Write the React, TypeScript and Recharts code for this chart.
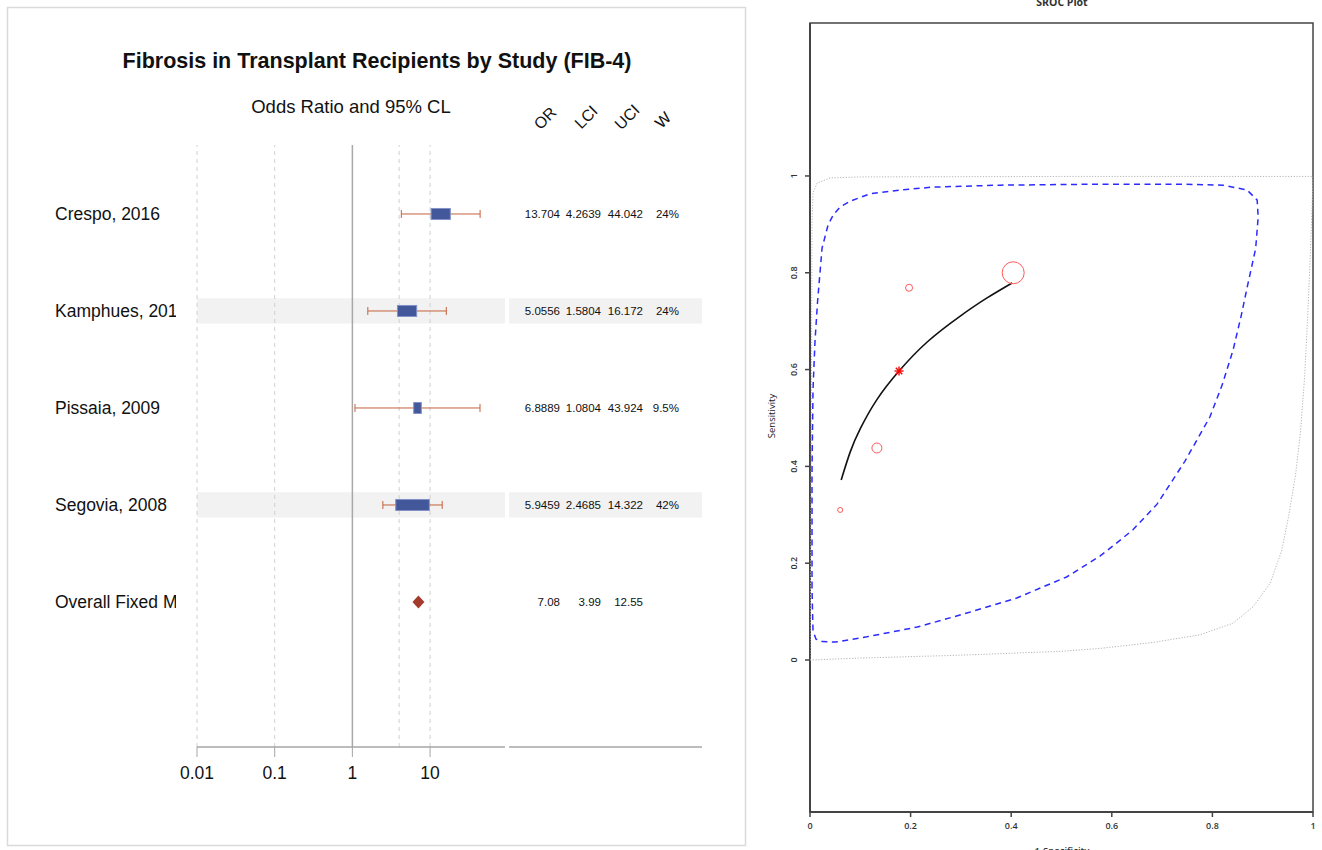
import React from "react";
import {
  ComposedChart,
  ErrorBar,
  ReferenceArea,
  ReferenceLine,
  Scatter,
  XAxis,
  YAxis,
} from "recharts";

// forest plot
const studyNames = ["Crespo, 2016", "Kamphues, 201", "Pissaia, 2009", "Segovia, 2008"];
const orValues = [13.704, 5.0556, 6.8889, 5.9459];
const lciValues = [4.2639, 1.5804, 1.0804, 2.4685];
const uciValues = [44.042, 16.172, 43.924, 14.322];
const weights = [24, 24, 9.5, 42];
const overallLabel = "Overall Fixed Model";
const overallOr = 7.08;
const overallLci = 3.99;
const overallUci = 12.55;
const orTicks = [0.01, 0.1, 1, 10];
const dashedRefs = [0.01, 0.1, 4, 10];
const shadedRows = [1, 3];
const tableHeaders = ["OR", "LCI", "UCI", "W"];

// SROC plot
const srocTicks = [0, 0.2, 0.4, 0.6, 0.8, 1];
const studyFpr = [0.404, 0.197, 0.133, 0.06];
const studySens = [0.8, 0.769, 0.438, 0.31];
const studyWeight = [11, 3.5, 5, 2.5];
const summaryFpr = 0.177;
const summarySens = 0.597;
const curveFpr = [0.062, 0.08, 0.1, 0.133, 0.177, 0.233, 0.298, 0.352, 0.402];
const curveSens = [0.372, 0.43, 0.478, 0.538, 0.597, 0.657, 0.71, 0.748, 0.779];
const confFpr = [
  0.004, 0.004, 0.004, 0.006, 0.01, 0.015, 0.024, 0.036, 0.046, 0.06, 0.08, 0.119, 0.179,
  0.245, 0.378, 0.577, 0.736, 0.821, 0.869, 0.889, 0.891, 0.886, 0.871, 0.857, 0.841, 0.82,
  0.795, 0.745, 0.69, 0.642, 0.61, 0.577, 0.511, 0.411, 0.312, 0.213, 0.113, 0.05, 0.025,
  0.012, 0.006, 0.005, 0.004,
];
const confSens = [
  0.15, 0.25, 0.39, 0.56, 0.66, 0.74, 0.851, 0.899, 0.919, 0.936, 0.948, 0.963, 0.971,
  0.977, 0.981, 0.983, 0.983, 0.981, 0.971, 0.95, 0.915, 0.85, 0.779, 0.71, 0.64, 0.57,
  0.502, 0.41, 0.322, 0.269, 0.242, 0.215, 0.172, 0.128, 0.097, 0.068, 0.048, 0.037, 0.038,
  0.043, 0.06, 0.1, 0.15,
];
const predFpr = [
  0, 0.1, 0.2, 0.3, 0.4, 0.5, 0.577, 0.68, 0.775, 0.841, 0.881, 0.915, 0.938, 0.952, 0.965,
  0.975, 0.983, 0.989, 0.994, 0.998, 1, 0.5, 0.1, 0.04, 0.014, 0.006, 0.004, 0.003, 0.002, 0,
];
const predSens = [
  0, 0.004, 0.007, 0.01, 0.014, 0.018, 0.024, 0.036, 0.052, 0.076, 0.11, 0.159, 0.227, 0.3,
  0.38, 0.47, 0.58, 0.7, 0.82, 0.93, 0.999, 0.999, 0.998, 0.996, 0.985, 0.965, 0.9, 0.6, 0.3, 0,
];

const FONT = "'Liberation Sans', Arial, sans-serif";
const SROC_FONT = "'Open Sans', 'DejaVu Sans', sans-serif";
const COL_RIGHT = [560, 601, 643, 679];
const ROW_BOTTOM = 5.495;

const studyRows = studyNames.map((name, i) => ({
  row: i,
  or: orValues[i],
  err: [orValues[i] - lciValues[i], uciValues[i] - orValues[i]],
  cells: [String(orValues[i]), String(lciValues[i]), String(uciValues[i]), weights[i] + "%"],
  w: weights[i],
}));
const overallRow = [
  {
    row: 4,
    or: overallOr,
    cells: [String(overallOr), String(overallLci), String(overallUci)],
  },
];
const rowLabels = [...studyNames, overallLabel];

const zip = (xs: number[], ys: number[]) => xs.map((x, i) => ({ x, y: ys[i] }));
const studyPoints = studyFpr.map((x, i) => ({ x, y: studySens[i], w: studyWeight[i] }));

function TableCells({ cy, cells }: { cy: number; cells: string[] }) {
  return (
    <>
      {cells.map((c, i) => (
        <text
          key={i}
          x={COL_RIGHT[i]}
          y={cy}
          dy="0.35em"
          textAnchor="end"
          fontSize={11.5}
          fontFamily={FONT}
          fill="#111"
        >
          {c}
        </text>
      ))}
    </>
  );
}

function StudyBox(props: any) {
  const { cx, cy, payload } = props;
  const w = payload.w * 0.8;
  return (
    <g>
      <rect x={cx - w / 2} y={cy - 5.5} width={w} height={11} fill="#43579b" stroke="#8291c8" strokeWidth={1} />
      <TableCells cy={cy} cells={payload.cells} />
    </g>
  );
}

function Diamond(props: any) {
  const { cx, cy, payload } = props;
  return (
    <g>
      <polygon points={`${cx - 6},${cy} ${cx},${cy - 6.5} ${cx + 6},${cy} ${cx},${cy + 6.5}`} fill="#a33a2c" />
      <TableCells cy={cy} cells={payload.cells} />
    </g>
  );
}

function StudyTick(props: any) {
  const { y, payload } = props;
  return (
    <svg x={55} y={y - 15} width={121} height={30} overflow="hidden">
      <text x={0} y={15} dy="0.35em" fontSize={17.5} fontFamily={FONT} fill="#111">
        {rowLabels[payload.value]}
      </text>
    </svg>
  );
}

function SrocYTick(props: any) {
  const { x, y, payload } = props;
  const tx = x - 9;
  return (
    <text
      x={tx}
      y={y}
      dy="0.35em"
      textAnchor="middle"
      transform={`rotate(-90, ${tx}, ${y})`}
      fontSize={9}
      fontWeight={600}
      fontFamily={SROC_FONT}
      fill="#333"
    >
      {String(payload.value)}
    </text>
  );
}

const Empty = () => <g />;

function StudyCircle(props: any) {
  const { cx, cy, payload } = props;
  return <circle cx={cx} cy={cy} r={payload.w} fill="none" stroke="#ff5a5a" strokeWidth={1} />;
}

function Asterisk(props: any) {
  const { cx, cy } = props;
  const s = 4.5;
  const d = s * 0.72;
  return (
    <g stroke="#ff0000" strokeWidth={1.4}>
      <line x1={cx - s} y1={cy} x2={cx + s} y2={cy} />
      <line x1={cx} y1={cy - s} x2={cx} y2={cy + s} />
      <line x1={cx - d} y1={cy - d} x2={cx + d} y2={cy + d} />
      <line x1={cx - d} y1={cy + d} x2={cx + d} y2={cy - d} />
    </g>
  );
}

function ForestPlot() {
  return (
    <ComposedChart width={760} height={850} margin={{ top: 145, right: 58, bottom: 63, left: 0 }}>
      <XAxis
        type="number"
        dataKey="or"
        scale="log"
        domain={[0.01, 31622.78]}
        allowDataOverflow
        ticks={orTicks}
        tickFormatter={(v: number) => String(v)}
        axisLine={false}
        tickLine={{ stroke: "#a6a6a6" }}
        tickSize={10}
        tickMargin={10}
        height={40}
        tick={{ fontSize: 17.5, fontFamily: FONT, fill: "#111" }}
      />
      <YAxis
        type="number"
        dataKey="row"
        domain={[-0.711, ROW_BOTTOM]}
        allowDataOverflow
        reversed
        ticks={[0, 1, 2, 3, 4]}
        interval={0}
        width={197}
        axisLine={false}
        tickLine={false}
        tick={<StudyTick />}
      />
      {shadedRows.map((r) => (
        <ReferenceArea key={"a" + r} x1={0.01} x2={92} y1={r - 0.13} y2={r + 0.13} fill="#f2f2f2" fillOpacity={1} stroke="none" />
      ))}
      {shadedRows.map((r) => (
        <ReferenceArea key={"b" + r} x1={104} x2={31622.78} y1={r - 0.13} y2={r + 0.13} fill="#f2f2f2" fillOpacity={1} stroke="none" />
      ))}
      {dashedRefs.map((v) => (
        <ReferenceLine key={v} x={v} stroke="#d0d0d0" strokeDasharray="4 4" strokeWidth={1} />
      ))}
      <ReferenceLine x={1} stroke="#a8a8a8" strokeWidth={1.5} />
      <ReferenceLine
        segment={[{ x: 0.01, y: ROW_BOTTOM }, { x: 92, y: ROW_BOTTOM }]}
        stroke="#a6a6a6"
        strokeWidth={1.5}
        ifOverflow="visible"
      />
      <ReferenceLine
        segment={[{ x: 104, y: ROW_BOTTOM }, { x: 31622.78, y: ROW_BOTTOM }]}
        stroke="#a6a6a6"
        strokeWidth={1.5}
        ifOverflow="visible"
      />
      <Scatter data={studyRows} shape={<StudyBox />} isAnimationActive={false}>
        <ErrorBar dataKey="err" direction="x" width={4} stroke="#c5603c" strokeWidth={1} />
      </Scatter>
      <Scatter data={overallRow} shape={<Diamond />} isAnimationActive={false} />
    </ComposedChart>
  );
}

function SrocPlot() {
  return (
    <ComposedChart width={562} height={850} margin={{ top: 23, right: 9, bottom: 0, left: 0 }}>
      <XAxis
        type="number"
        dataKey="x"
        domain={[0, 1]}
        ticks={srocTicks}
        allowDataOverflow
        axisLine={{ stroke: "#444", strokeWidth: 2 }}
        tickLine={{ stroke: "#444", strokeWidth: 1.5 }}
        tickSize={5}
        tickMargin={6}
        height={38}
        tick={{ fontSize: 9, fontWeight: 600, fontFamily: SROC_FONT, fill: "#333" }}
      />
      <YAxis
        type="number"
        dataKey="y"
        domain={[-0.314, 1.316]}
        ticks={srocTicks}
        allowDataOverflow
        width={50}
        axisLine={{ stroke: "#444", strokeWidth: 2 }}
        tickLine={{ stroke: "#444", strokeWidth: 1.5 }}
        tickSize={5}
        tick={<SrocYTick />}
      />
      <ReferenceArea x1={0} x2={1} y1={-0.314} y2={1.316} fill="none" stroke="#444" strokeWidth={1.5} ifOverflow="visible" />
      <Scatter
        data={zip(predFpr, predSens)}
        shape={<Empty />}
        line={{ stroke: "#b5b5b5", strokeWidth: 1, strokeDasharray: "1.2 1.6" }}
        lineJointType="linear"
        isAnimationActive={false}
      />
      <Scatter
        data={zip(confFpr, confSens)}
        shape={<Empty />}
        line={{ stroke: "#2b2bff", strokeWidth: 1.5, strokeDasharray: "6 4.5" }}
        lineJointType="linear"
        isAnimationActive={false}
      />
      <Scatter
        data={zip(curveFpr, curveSens)}
        shape={<Empty />}
        line={{ stroke: "#111", strokeWidth: 1.6 }}
        lineJointType="natural"
        isAnimationActive={false}
      />
      <Scatter data={studyPoints} shape={<StudyCircle />} isAnimationActive={false} />
      <Scatter data={[{ x: summaryFpr, y: summarySens }]} shape={<Asterisk />} isAnimationActive={false} />
    </ComposedChart>
  );
}

export default function App() {
  const headerPos = [
    [545, 118],
    [586, 117],
    [627, 117],
    [663, 120],
  ];
  return (
    <div style={{ position: "absolute", left: 0, top: 0, width: 1322, height: 850, overflow: "hidden", background: "#fff" }}>
      <div style={{ position: "absolute", left: 0, top: 0 }}>
        <ForestPlot />
      </div>
      <div style={{ position: "absolute", left: 760, top: 0 }}>
        <SrocPlot />
      </div>
      <svg width={1322} height={850} style={{ position: "absolute", left: 0, top: 0, pointerEvents: "none" }}>
        <rect x={7.5} y={7.5} width={738} height={838} fill="none" stroke="#dadada" strokeWidth={1.5} />
        <text x={377} y={60} dy="0.35em" textAnchor="middle" fontSize={21.5} fontWeight={700} fontFamily={FONT} fill="#111">
          Fibrosis in Transplant Recipients by Study (FIB-4)
        </text>
        <text x={351} y={107} dy="0.35em" textAnchor="middle" fontSize={18.5} fontFamily={FONT} fill="#111">
          Odds Ratio and 95% CL
        </text>
        {tableHeaders.map((h, i) => (
          <text
            key={h}
            x={headerPos[i][0]}
            y={headerPos[i][1]}
            dy="0.35em"
            textAnchor="middle"
            transform={`rotate(-45, ${headerPos[i][0]}, ${headerPos[i][1]})`}
            fontSize={16}
            fontFamily={FONT}
            fill="#111"
          >
            {h}
          </text>
        ))}
        <text x={1062} y={6} textAnchor="middle" fontSize={10.5} fontWeight={700} fontFamily={SROC_FONT} fill="#333">
          SROC Plot
        </text>
        <text
          x={772}
          y={416}
          dy="0.35em"
          textAnchor="middle"
          transform="rotate(-90, 772, 416)"
          fontSize={9.5}
          fontFamily={SROC_FONT}
          fill="#222"
        >
          Sensitivity
        </text>
        <text x={1062} y={854} textAnchor="middle" fontSize={9.5} fontWeight={600} fontFamily={SROC_FONT} fill="#333">
          1-Specificity
        </text>
      </svg>
    </div>
  );
}
